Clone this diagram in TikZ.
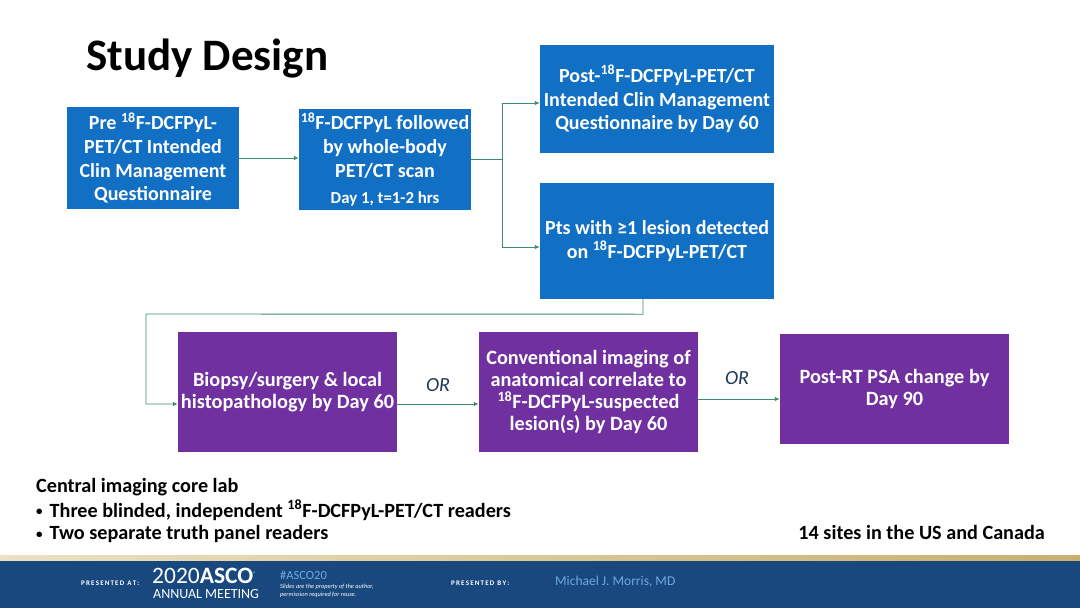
\documentclass[tikz,border=0pt]{standalone}
\usepackage{fontspec}
\setmainfont{Carlito}
\usetikzlibrary{arrows.meta,calc,positioning}
\definecolor{boxblue}{RGB}{17,112,196}
\definecolor{boxpurple}{RGB}{112,48,160}
\definecolor{conncol}{RGB}{60,140,110}
\definecolor{footblue}{RGB}{24,72,126}
\definecolor{footlight}{RGB}{110,170,225}
\definecolor{orcol}{RGB}{30,55,90}
\definecolor{tanA}{RGB}{235,225,195}
\definecolor{tanB}{RGB}{200,175,110}
\newcommand{\smallbullet}{\raisebox{1.5pt}{\fontsize{13}{13}\selectfont•}}
\begin{document}
\begin{tikzpicture}[x=1pt,y=-1pt,
  bluebox/.style={fill=boxblue,text=white,font=\bfseries\fontsize{20}{23.7}\selectfont,align=center,inner sep=0pt},
  purplebox/.style={fill=boxpurple,text=white,font=\bfseries\fontsize{20.3}{22.3}\selectfont,align=center,inner sep=0pt},
  conn/.style={draw=conncol,line width=0.9pt,-{Latex[length=5pt,width=4.5pt]}},
  plain/.style={draw=conncol,line width=0.9pt},
  ortext/.style={font=\itshape\fontsize{20}{22}\selectfont,text=orcol},
  note/.style={inner sep=0pt,font=\bfseries\fontsize{20.2}{23.5}\selectfont},
  foot/.style={text=white,inner sep=0pt,anchor=west}]
\useasboundingbox (0,0) rectangle (1080,608);
\fill[white] (0,0) rectangle (1080,608);
% title
\node[anchor=west,inner sep=0pt,font=\bfseries\fontsize{45}{48}\selectfont] (title) at (86,59) {Study Design};
% boxes
\node[bluebox,minimum width=172pt,minimum height=102pt] (A) at (153,158)
  {Pre \textsuperscript{18}F-DCFPyL-\\PET/CT Intended\\Clin Management\\Questionnaire};
\node[bluebox,minimum width=172pt,minimum height=101pt] (B) at (385,159.5)
  {\textsuperscript{18}F-DCFPyL followed\\by whole-body\\PET/CT scan\\[3pt]{\fontsize{16.8}{18}\selectfont Day 1, t=1-2 hrs}};
\node[bluebox,minimum width=234pt,minimum height=108pt] (C) at (657,99)
  {Post-\textsuperscript{18}F-DCFPyL-PET/CT\\Intended Clin Management\\Questionnaire by Day 60};
\node[bluebox,minimum width=234pt,minimum height=116pt] (D) at (657,241)
  {Pts with ≥1 lesion detected\\on \textsuperscript{18}F-DCFPyL-PET/CT};
\node[purplebox,minimum width=219pt,minimum height=120pt] (E) at (287.5,392)
  {Biopsy/surgery \& local\\histopathology by Day 60};
\node[purplebox,minimum width=219pt,minimum height=120pt] (F) at (588.5,392)
  {Conventional imaging of\\anatomical correlate to\\\textsuperscript{18}F-DCFPyL-suspected\\lesion(s) by Day 60};
\node[purplebox,minimum width=229pt,minimum height=110pt] (G) at (894.5,389)
  {Post-RT PSA change by\\Day 90};
% connectors
\draw[conn] (A.east) -- (A.east -| B.west);
\coordinate (split) at ($(B.east)+(31,0)$);
\draw[plain] (B.east) -- (split);
\draw[conn] (split) |- ($(C.west)+(0,4)$);
\draw[conn] (split) |- ($(D.west)+(0,6)$);
\coordinate (d1) at ($(D.south)+(-14,0)$);
\coordinate (d2) at ($(d1)+(0,15)$);
\coordinate (d3) at (146,314);
\draw[conn] (d1) -- (d2) -- (d3) |- ($(E.west)+(0,12)$);
\draw[conn] ($(E.east)+(0,12)$) -- ($(F.west)+(0,12)$);
\draw[conn] ($(F.east)+(0,7)$) -- ($(G.west)+(0,10)$);
\node[ortext] (or1) at (438,385) {OR};
\node[ortext] (or2) at (737,378) {OR};
% bottom notes
\node[note,anchor=west] (core) at (36,487) {Central imaging core lab};
\node[note,anchor=west] (b1) at (36,510) {\smallbullet\hspace{7pt}Three blinded, independent \textsuperscript{18}F-DCFPyL-PET/CT readers};
\node[note,anchor=west] (b2) at (36,534) {\smallbullet\hspace{7pt}Two separate truth panel readers};
\node[note,anchor=east] (sites) at (1045,532) {14 sites in the US and Canada};
% footer
\shade[left color=tanA,right color=tanB] (0,555) rectangle (1080,561);
\fill[footblue] (0,561) rectangle (1080,608);
\node[foot,font=\bfseries\fontsize{7}{8}\selectfont] (pat) at (81,583) {P\,R\,E\,S\,E\,N\,T\,E\,D\ \ A\,T\,:};
\node[foot,font=\fontsize{23.5}{24}\selectfont] (asco) at (152,575.5) {2020\textbf{ASCO}\raisebox{8pt}{\fontsize{5}{5}\selectfont®}};
\node[foot,font=\fontsize{14}{15}\selectfont] (am) at (153,594) {ANNUAL MEETING};
\node[foot,font=\fontsize{12.5}{13}\selectfont,text=footlight] (hash) at (280,575) {\#ASCO20};
\node[foot,font=\itshape\fontsize{6.3}{7.5}\selectfont,align=left,anchor=north west] (slides) at (280,584) {Slides are the property of the author,\\permission required for reuse.};
\node[foot,font=\bfseries\fontsize{7}{8}\selectfont] (pby) at (451,583) {P\,R\,E\,S\,E\,N\,T\,E\,D\ \ B\,Y\,:};
\node[foot,font=\fontsize{13.5}{14}\selectfont,text=footlight] (mm) at (555,582) {Michael J. Morris, MD};
\end{tikzpicture}
\end{document}
